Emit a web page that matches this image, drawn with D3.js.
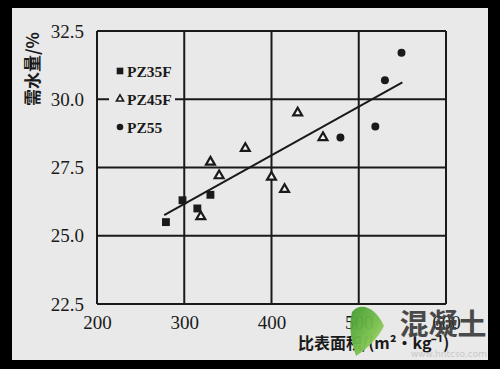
<!DOCTYPE html>
<html><head><meta charset="utf-8">
<script src="https://cdn.jsdelivr.net/npm/d3@7"></script>
<style>html,body{margin:0;padding:0;background:#000;}svg{display:block;}</style>
</head><body>
<script>
// Data
const xTicks = [200, 300, 400, 500, 600];
const yTicks = [22.5, 25.0, 27.5, 30.0, 32.5];
const seriesNames = ["PZ35F", "PZ45F", "PZ55"];
const pz35fX = [279, 298, 315, 330];
const pz35fY = [25.5, 26.3, 26.0, 26.5];
const pz45fX = [319, 330, 340, 370, 400, 415, 430, 459];
const pz45fY = [25.7, 27.7, 27.2, 28.2, 27.15, 26.7, 29.5, 28.6];
const pz55X = [479, 519, 530, 549];
const pz55Y = [28.6, 29.0, 30.7, 31.7];
const fitX = [277, 550];
const fitY = [25.76, 30.62];
const yTitle = "需水量/%";
const xTitle = "比表面积/(m²·kg⁻¹)";

const W = 500, H = 369;
const svg = d3.select("body").append("svg").attr("width", W).attr("height", H);
svg.append("rect").attr("width", W).attr("height", H).attr("fill", "#000");
svg.append("rect").attr("x", 12).attr("y", 8).attr("width", 476).attr("height", 352).attr("fill", "#e9e9e9");

const x = d3.scaleLinear().domain([200, 600]).range([97, 446]);
const y = d3.scaleLinear().domain([22.5, 32.5]).range([304, 31]);
const ink = "#1a1a1a";
const serif = "'Liberation Serif','DejaVu Serif',serif";

// grid
const g = svg.append("g");
g.selectAll(".vx").data(xTicks).join("line")
  .attr("x1", d => x(d)).attr("x2", d => x(d)).attr("y1", y(22.5)).attr("y2", y(32.5))
  .attr("stroke", ink).attr("stroke-width", 2);
g.selectAll(".hy").data(yTicks).join("line")
  .attr("y1", d => y(d)).attr("y2", d => y(d)).attr("x1", x(200)).attr("x2", x(600))
  .attr("stroke", ink).attr("stroke-width", 2);

// axes labels via d3 axes (no tick lines)
const xAxis = svg.append("g").attr("transform", `translate(0,${y(22.5)})`)
  .call(d3.axisBottom(x).tickValues(xTicks).tickSize(0).tickPadding(12).tickFormat(d3.format("d")));
const yAxis = svg.append("g").attr("transform", `translate(${x(200)},0)`)
  .call(d3.axisLeft(y).tickValues(yTicks).tickSize(0).tickPadding(13).tickFormat(d3.format(".1f")));
[xAxis, yAxis].forEach(a => {
  a.select(".domain").remove();
  a.selectAll("text").attr("font-family", serif).attr("font-size", 19).attr("fill", ink);
});

// legend background
svg.append("rect").attr("x", 109).attr("y", 58).attr("width", 66).attr("height", 80).attr("fill", "#e9e9e9");

// fitted line
svg.append("path").datum(d3.zip(fitX, fitY))
  .attr("d", d3.line().x(d => x(d[0])).y(d => y(d[1])))
  .attr("stroke", ink).attr("stroke-width", 2).attr("fill", "none");

// markers
const sq = d3.symbol().type(d3.symbolSquare).size(62);
const tri = d3.symbol().type(d3.symbolTriangle).size(34);
const circ = d3.symbol().type(d3.symbolCircle).size(50);
svg.append("g").selectAll("path").data(d3.zip(pz35fX, pz35fY)).join("path")
  .attr("d", sq).attr("transform", d => `translate(${x(d[0])},${y(d[1])})`).attr("fill", ink);
svg.append("g").selectAll("path").data(d3.zip(pz45fX, pz45fY)).join("path")
  .attr("d", tri).attr("transform", d => `translate(${x(d[0])},${y(d[1])})`)
  .attr("fill", "#f4f4f4").attr("stroke", ink).attr("stroke-width", 2.2);
svg.append("g").selectAll("path").data(d3.zip(pz55X, pz55Y)).join("path")
  .attr("d", circ).attr("transform", d => `translate(${x(d[0])},${y(d[1])})`).attr("fill", ink);

// legend
const legY = [71, 99, 127];
seriesNames.forEach((n, i) => {
  const p = svg.append("path").attr("d", i === 1 ? d3.symbol().type(d3.symbolTriangle).size(22)() : (i === 0 ? d3.symbol().type(d3.symbolSquare).size(44)() : d3.symbol().type(d3.symbolCircle).size(34)()))
    .attr("transform", `translate(120,${legY[i]})`);
  if (i === 1) p.attr("fill", "#f4f4f4").attr("stroke", ink).attr("stroke-width", 1.6);
  else p.attr("fill", ink);
  svg.append("text").attr("x", 127).attr("y", legY[i]).attr("dy", "0.36em")
    .attr("font-family", serif).attr("font-weight", "bold").attr("font-size", 15.5)
    .attr("fill", ink).text(n);
});

// titles
svg.append("text").attr("transform", "translate(39,69) rotate(-90)")
  .attr("text-anchor", "middle").attr("font-family", "'Noto Sans CJK SC',sans-serif")
  .attr("font-weight", "bold").attr("font-size", 17).attr("fill", ink).text(yTitle);
svg.append("text").attr("x", 298).attr("y", 349)
  .attr("font-family", "'Noto Sans CJK SC',serif").attr("font-weight", "bold")
  .attr("font-size", 16).attr("fill", ink).text(xTitle);

// watermark overlay
const defs = svg.append("defs");
const gr = defs.append("linearGradient").attr("id", "lg").attr("x1", 0).attr("y1", 0).attr("x2", 1).attr("y2", 1);
gr.append("stop").attr("offset", 0).attr("stop-color", "#3f9a2e");
gr.append("stop").attr("offset", 0.6).attr("stop-color", "#7cc24e");
gr.append("stop").attr("offset", 1).attr("stop-color", "#c8e68c");
svg.append("path")
  .attr("d", "M352,312 C360,302 375,306 384,326 C378,338 368,348 356,356 C352,344 348,328 352,312 Z")
  .attr("fill", "url(#lg)").attr("opacity", 0.95);
svg.append("text").attr("x", 443).attr("y", 335).attr("text-anchor", "middle")
  .attr("font-family", "'Noto Sans CJK SC',sans-serif").attr("font-weight", "bold")
  .attr("font-size", 29).attr("fill", "#3c3c3c").attr("opacity", 0.92).text("混凝土");
svg.append("text").attr("x", 487).attr("y", 357).attr("text-anchor", "end")
  .attr("font-family", "'DejaVu Sans',sans-serif").attr("font-size", 9)
  .attr("fill", "#c8c8c8").text("www.hntcso.com");
</script>
</body></html>
